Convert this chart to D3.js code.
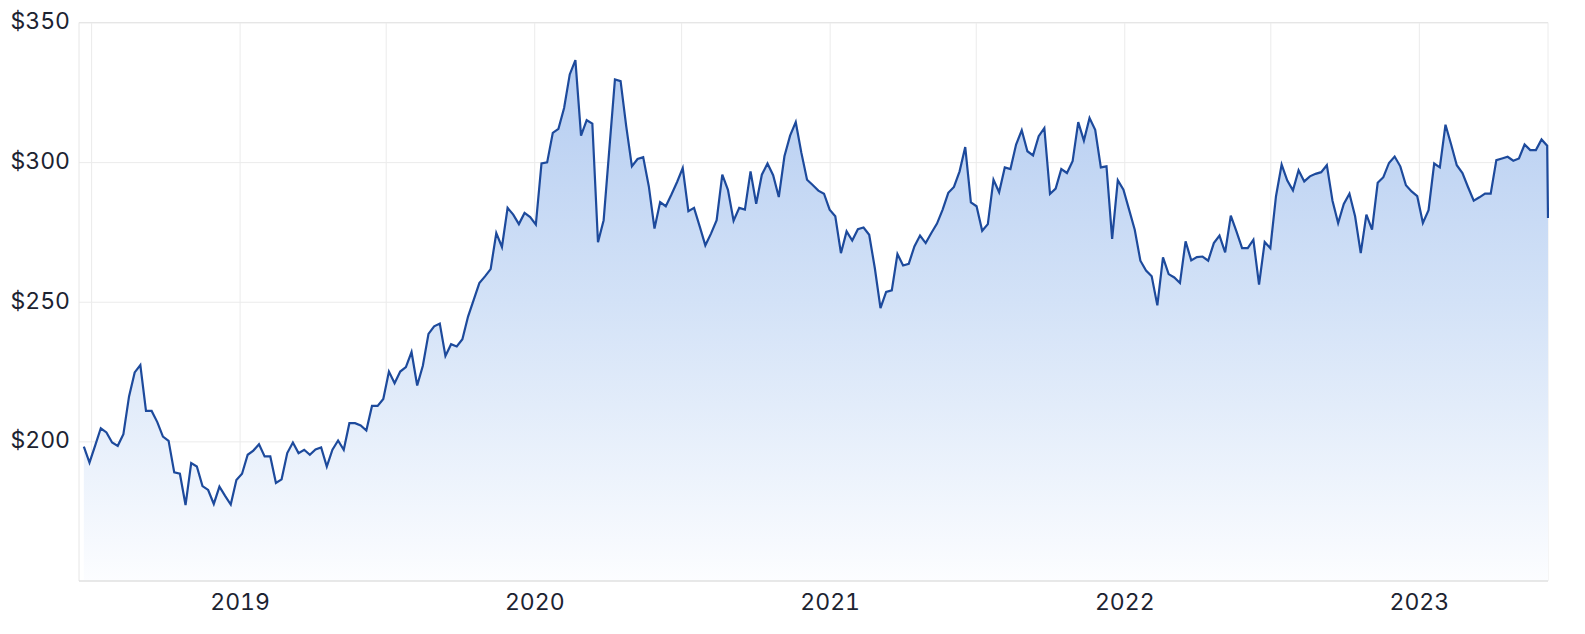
<!DOCTYPE html>
<html>
<head>
<meta charset="utf-8">
<script src="https://cdn.jsdelivr.net/npm/d3@7"></script>
<style>
  html, body { margin: 0; padding: 0; background: #ffffff; }
  svg { display: block; }
  text { font-family: Inter, "Noto Sans", sans-serif; fill: #1c2331; font-feature-settings: "tnum" 1; font-variant-numeric: tabular-nums; }
</style>
</head>
<body>
<svg id="chart" width="1585" height="634"></svg>
<script>
// ---- data (weekly closes) ----
const startDate = "2018-06-22";   // first weekly point
const lastDate = "2023-06-10";    // final (partial-week) point
const domainStart = "2018-06-16";
const domainEnd = "2023-06-10";

const prices2018 = [198.1, 192.4, 198.5, 204.7, 203.2, 199.6, 198.4, 202.6, 216.1, 224.7,
  227.3, 210.9, 210.9, 206.9, 201.7, 200.2, 188.9, 188.4, 177.2, 192.2,
  191.0, 184.0, 182.6, 177.6, 183.8, 180.5, 177.4, 186.2];
const prices2019 = [188.4, 195.2, 196.7, 199.0, 194.6, 194.6, 185.1, 186.4, 195.8, 199.6,
  195.8, 197.0, 195.2, 197.1, 197.8, 191.0, 197.0, 200.3, 197.0, 206.5,
  206.5, 205.7, 203.9, 212.7, 212.7, 215.2, 225.0, 220.8, 225.0, 226.6,
  232.0, 220.0, 227.1, 238.5, 241.2, 242.2, 230.6, 234.8, 234.0, 236.6,
  244.7, 250.7, 256.7, 259.1, 261.7, 274.6, 269.6, 283.6, 281.2, 277.8,
  281.8, 280.3];
const prices2020 = [277.6, 299.5, 299.9, 310.5, 311.9, 319.4, 331.4, 336.5, 309.5, 315.0,
  313.8, 271.3, 279.2, 304.5, 329.6, 329.0, 312.8, 298.5, 301.1, 301.8,
  291.3, 276.2, 285.7, 284.2, 288.4, 292.9, 297.9, 282.4, 283.6, 277.0,
  270.2, 274.4, 279.2, 295.5, 290.1, 279.0, 283.6, 283.0, 296.7, 285.1,
  295.5, 299.5, 295.3, 287.5, 302.1, 309.5, 314.3, 303.3, 293.7, 291.8,
  289.8, 288.7];
const prices2021 = [283.0, 280.6, 267.4, 275.2, 271.9, 276.0, 276.6, 274.0, 262.0, 247.7,
  253.5, 254.1, 267.1, 263.0, 263.6, 269.8, 273.7, 271.0, 274.6, 278.0,
  283.0, 289.0, 291.1, 296.7, 305.4, 285.6, 284.2, 275.4, 277.8, 293.7,
  289.2, 298.1, 297.5, 306.3, 311.4, 303.9, 302.4, 309.3, 312.2, 288.6,
  290.5, 297.5, 296.1, 300.3, 314.3, 307.7, 315.8, 311.6, 298.1, 298.5,
  272.5, 293.5, 290.1];
const prices2022 = [283.0, 275.8, 264.7, 261.2, 259.1, 248.7, 265.9, 259.9, 258.7, 256.7,
  271.6, 264.8, 266.0, 266.2, 264.7, 271.0, 273.7, 267.7, 280.8, 275.2,
  269.2, 269.2, 272.2, 256.1, 271.4, 269.2, 287.8, 299.1, 293.4, 289.9,
  297.1, 293.1, 294.9, 295.8, 296.4, 298.9, 286.2, 278.2, 285.0, 288.7,
  280.6, 267.4, 281.2, 275.8, 292.6, 294.6, 299.7, 302.0, 298.5, 291.7,
  289.5, 287.8];
const prices2023 = [278.2, 282.8, 299.5, 298.1, 313.4, 306.3, 298.9, 296.1, 291.0, 286.2,
  287.4, 288.7, 288.7, 300.7, 301.3, 301.9, 300.5, 301.3, 306.3, 304.3,
  304.3, 308.1, 305.9, 280.0];

const yTicks = [200, 250, 300, 350];
const yDomain = [150, 350];
const yearTicks = ["2019-01-01", "2020-01-01", "2021-01-01", "2022-01-01", "2023-01-01"];
const yearLabels = ["2019", "2020", "2021", "2022", "2023"];

(function () {
  // ---- build series ----
  const parse = d3.utcParse("%Y-%m-%d");
  const prices = [].concat(prices2018, prices2019, prices2020, prices2021, prices2022, prices2023);
  const t0 = parse(startDate);
  const data = prices.map((v, i) => ({
    date: i === prices.length - 1 ? parse(lastDate) : d3.utcDay.offset(t0, 7 * i),
    value: v
  }));

  // ---- layout ----
  const svg = d3.select("#chart");
  const pl = 79, pr = 1548, pt = 22.5, pb = 581;
  const font = "Inter, 'Noto Sans', sans-serif";

  const x = d3.scaleUtc().domain([parse(domainStart), parse(domainEnd)]).range([pl, pr]);
  const y = d3.scaleLinear().domain(yDomain).range([pb, pt]);

  // gradient
  const defs = svg.append("defs");
  const grad = defs.append("linearGradient")
    .attr("id", "fillGrad").attr("gradientUnits", "userSpaceOnUse")
    .attr("x1", 0).attr("x2", 0).attr("y1", pt).attr("y2", pb);
  grad.append("stop").attr("offset", "0%").attr("stop-color", "#b0c9f0");
  grad.append("stop").attr("offset", "50%").attr("stop-color", "#d3e2f7");
  grad.append("stop").attr("offset", "100%").attr("stop-color", "#fcfdff");

  defs.append("clipPath").attr("id", "plotClip")
    .append("rect").attr("x", pl).attr("y", pt - 5).attr("width", pr - pl + 1).attr("height", pb - pt + 5);

  // vertical grid (every 6 months)
  const vTicks = d3.utcMonth.every(6).range(parse(domainStart), parse(domainEnd));
  svg.append("g").attr("class", "vgrid")
    .attr("transform", `translate(0,${pb})`)
    .call(d3.axisBottom(x).tickValues(vTicks).tickSize(-(pb - pt)).tickFormat(""))
    .call(g => g.select(".domain").remove())
    .call(g => g.selectAll("line").attr("stroke", "#ebebeb").attr("stroke-width", 1));

  // horizontal grid
  svg.append("g").attr("class", "hgrid")
    .attr("transform", `translate(${pl},0)`)
    .call(d3.axisLeft(y).tickValues(yTicks).tickSize(-(pr - pl)).tickFormat(""))
    .call(g => g.select(".domain").remove())
    .call(g => g.selectAll("line").attr("stroke", "#ebebeb").attr("stroke-width", 1));

  // plot frame
  svg.append("line").attr("x1", pl).attr("x2", pl).attr("y1", pt).attr("y2", pb)
    .attr("stroke", "#e6e6e6");
  svg.append("line").attr("x1", pr).attr("x2", pr).attr("y1", pt).attr("y2", pb)
    .attr("stroke", "#ececec");
  svg.append("line").attr("x1", pl).attr("x2", pr).attr("y1", pt).attr("y2", pt)
    .attr("stroke", "#e6e6e6");

  // area + line
  const plot = svg.append("g").attr("clip-path", "url(#plotClip)");
  plot.append("path").datum(data)
    .attr("fill", "url(#fillGrad)")
    .attr("d", d3.area().x(d => x(d.date)).y0(pb).y1(d => y(d.value)));
  plot.append("path").datum(data)
    .attr("fill", "none")
    .attr("stroke", "#1d4a9c")
    .attr("stroke-width", 2.2)
    .attr("stroke-linejoin", "miter")
    .attr("d", d3.line().x(d => x(d.date)).y(d => y(d.value)));

  // bottom axis line
  svg.append("line").attr("x1", pl).attr("x2", pr).attr("y1", pb).attr("y2", pb)
    .attr("stroke", "#e0e0e0").attr("stroke-width", 1.5);

  // y labels
  const yAxis = svg.append("g").attr("transform", `translate(${pl},0)`)
    .call(d3.axisLeft(y).tickValues(yTicks).tickSize(0).tickPadding(9).tickFormat(d => "$" + d));
  yAxis.select(".domain").remove();
  yAxis.selectAll("text").attr("font-size", 23).attr("font-family", font)
    .attr("fill", "#1c2331").attr("dy", "0.28em");

  // x labels
  const xAxis = svg.append("g").attr("transform", `translate(0,${pb})`)
    .call(d3.axisBottom(x).tickValues(yearTicks.map(parse)).tickSize(0).tickPadding(13)
      .tickFormat((d, i) => yearLabels[i]));
  xAxis.select(".domain").remove();
  xAxis.selectAll("text").attr("font-size", 23).attr("font-family", font)
    .attr("fill", "#1c2331");
})();
</script>
</body>
</html>
